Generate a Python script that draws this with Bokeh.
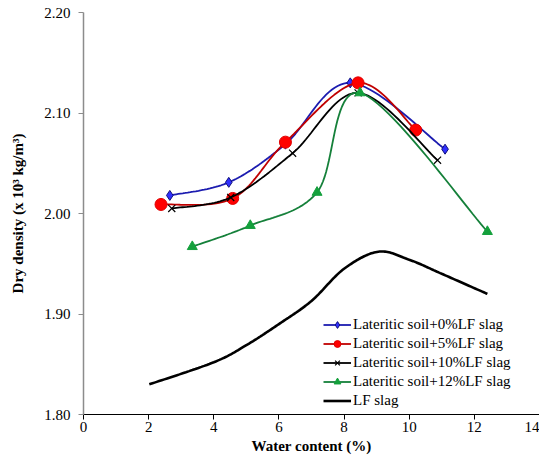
from bokeh.plotting import figure
from bokeh.models import Range1d, Legend, LegendItem, FixedTicker, PrintfTickFormatter
from bokeh.embed import file_html
from bokeh.resources import INLINE

# ---- data ----
w0 = [2.65, 4.46, 6.20, 8.19, 11.10]
d0 = [2.018, 2.031, 2.069, 2.130, 2.064]
w5 = [2.38, 4.58, 6.20, 8.43, 10.20]
d5 = [2.009, 2.015, 2.071, 2.130, 2.083]
w10 = [2.71, 4.52, 6.42, 8.43, 10.87]
d10 = [2.005, 2.016, 2.060, 2.120, 2.053]
w12 = [3.34, 5.12, 7.17, 8.49, 12.40]
d12 = [1.967, 1.988, 2.021, 2.120, 1.982]
w_lf = [2.02, 4.0, 5.0, 6.0, 7.0, 8.0, 9.05, 10.0, 11.0, 12.4]
d_lf = [1.830, 1.852, 1.869, 1.890, 1.913, 1.945, 1.962, 1.954, 1.940, 1.920]

labels = ["Lateritic soil+0%LF slag", "Lateritic soil+5%LF slag",
          "Lateritic soil+10%LF slag", "Lateritic soil+12%LF slag", "LF slag"]
x_ticks = [0, 2, 4, 6, 8, 10, 12, 14]
y_ticks = [1.80, 1.90, 2.00, 2.10, 2.20]


def smooth(xs, ys, n=24):
    """Catmull-Rom smoothing through the given points (like a spreadsheet smoothed line)."""
    px = [xs[0]] + list(xs) + [xs[-1]]
    py = [ys[0]] + list(ys) + [ys[-1]]
    ox, oy = [], []
    for i in range(1, len(px) - 2):
        for k in range(n):
            t = k / n
            t2, t3 = t * t, t * t * t

            def cr(p):
                return 0.5 * ((2 * p[i]) + (-p[i - 1] + p[i + 1]) * t +
                              (2 * p[i - 1] - 5 * p[i] + 4 * p[i + 1] - p[i + 2]) * t2 +
                              (-p[i - 1] + 3 * p[i] - 3 * p[i + 1] + p[i + 2]) * t3)
            ox.append(cr(px))
            oy.append(cr(py))
    ox.append(xs[-1])
    oy.append(ys[-1])
    return ox, oy


FONT = "Liberation Serif"

p = figure(frame_width=456, frame_height=402, output_backend="svg", toolbar_location=None,
           x_range=Range1d(0, 14), y_range=Range1d(1.80, 2.20),
           min_border_left=83, min_border_right=0, min_border_top=12, min_border_bottom=43)
p.outline_line_color = None
p.grid.visible = False

p.xaxis.ticker = FixedTicker(ticks=x_ticks)
p.yaxis.ticker = FixedTicker(ticks=y_ticks)
p.yaxis.formatter = PrintfTickFormatter(format="%.2f")

for ax in (p.xaxis[0], p.yaxis[0]):
    ax.major_label_text_font = FONT
    ax.major_label_text_font_size = "15px"
    ax.major_label_text_color = "black"
    ax.axis_label_text_font = FONT
    ax.axis_label_text_font_size = "15px"
    ax.axis_label_text_font_style = "bold"
    ax.axis_label_text_color = "black"
    ax.minor_tick_line_color = None
    ax.major_tick_in = 0
    ax.major_tick_out = 5

p.xaxis.major_label_standoff = 2
p.xaxis.axis_label_standoff = 3
p.yaxis.major_label_standoff = 8
p.yaxis.axis_label_standoff = 15

p.xaxis.axis_label = "Water content (%)"
p.yaxis.axis_label = "Dry density (x 10³ kg/m³)"
p.xaxis.axis_line_color = "black"
p.xaxis.major_tick_line_color = "black"
p.yaxis.axis_line_color = "#8c8c8c"
p.yaxis.major_tick_line_color = "#8c8c8c"
p.yaxis.axis_line_width = 1.5
p.xaxis.axis_line_width = 1.2

items = []

sx, sy = smooth(w0, d0)
l0 = p.line(sx, sy, line_color="#1c1cb0", line_width=1.8)
m0 = p.scatter(w0, d0, marker="diamond", size=10, fill_color="#3030ff", line_color="#10107a", line_width=1)
items.append(LegendItem(label=labels[0], renderers=[l0, m0]))

sx, sy = smooth(w5, d5)
l5 = p.line(sx, sy, line_color="#c00000", line_width=1.8)
m5 = p.scatter(w5, d5, marker="circle", size=12, fill_color="#ff0000", line_color="#e00000", line_width=1)
items.append(LegendItem(label=labels[1], renderers=[l5, m5]))

sx, sy = smooth(w10, d10)
l10 = p.line(sx, sy, line_color="black", line_width=1.8)
m10 = p.scatter(w10, d10, marker="x", size=10, line_color="black", line_width=1.2)
items.append(LegendItem(label=labels[2], renderers=[l10, m10]))

sx, sy = smooth(w12, d12)
l12 = p.line(sx, sy, line_color="#15803a", line_width=1.8)
m12 = p.scatter(w12, d12, marker="triangle", size=10, fill_color="#14a03c", line_color="#14a03c")
items.append(LegendItem(label=labels[3], renderers=[l12, m12]))

sx, sy = smooth(w_lf, d_lf)
llf = p.line(sx, sy, line_color="black", line_width=2.6)
items.append(LegendItem(label=labels[4], renderers=[llf]))

legend = Legend(items=items, location=(240, 5), orientation="vertical")
legend.label_text_font = FONT
legend.label_text_font_size = "15px"
legend.label_text_color = "black"
legend.label_height = 17
legend.glyph_height = 17
legend.glyph_width = 28
legend.label_standoff = 2
legend.spacing = 2
legend.padding = 0
legend.margin = 0
legend.border_line_color = None
legend.background_fill_alpha = 0
p.add_layout(legend)

open("out.html", "w").write(file_html(p, INLINE))
